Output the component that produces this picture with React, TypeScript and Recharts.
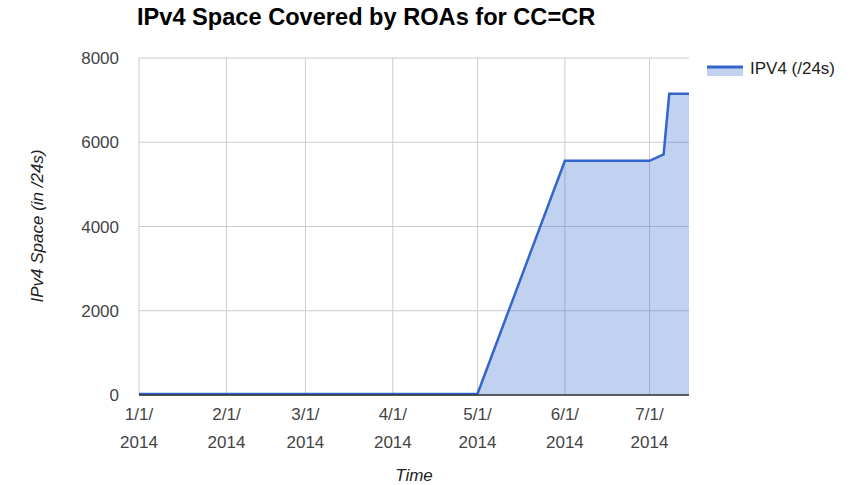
import { AreaChart, Area, XAxis, YAxis, CartesianGrid } from "recharts";

const FONT = "'Liberation Sans', Arial, sans-serif";

// dates (UTC, 2014) and IPv4 /24 counts
const dates = [
  Date.UTC(2014, 0, 1),
  Date.UTC(2014, 4, 1),
  Date.UTC(2014, 5, 1),
  Date.UTC(2014, 6, 1),
  Date.UTC(2014, 6, 6),
  Date.UTC(2014, 6, 8),
  Date.UTC(2014, 6, 15),
];
const ipv4Values = [25, 25, 5560, 5560, 5710, 7150, 7150];

const monthTicks = [0, 1, 2, 3, 4, 5, 6].map((m) => Date.UTC(2014, m, 1));
const yTicks = [0, 2000, 4000, 6000, 8000];

const data = dates.map((d, i) => ({ t: d, ipv4: ipv4Values[i] }));

function DateTick(props: any) {
  const { x, y, payload } = props;
  const d = new Date(payload.value);
  return (
    <text x={x} y={y} textAnchor="middle" fill="#444" fontSize={17} fontFamily={FONT}>
      <tspan x={x} dy={17}>{`${d.getUTCMonth() + 1}/${d.getUTCDate()}/`}</tspan>
      <tspan x={x} dy={28}>{d.getUTCFullYear()}</tspan>
    </text>
  );
}

export default function App() {
  return (
    <div style={{ position: "absolute", left: 0, top: 0, width: 851, height: 485, background: "#fff" }}>
      <div
        style={{
          position: "absolute",
          left: 137,
          top: 4,
          fontFamily: FONT,
          fontWeight: "bold",
          fontSize: 23.6,
          color: "#000",
          whiteSpace: "nowrap",
        }}
      >
        IPv4 Space Covered by ROAs for CC=CR
      </div>
      <div
        style={{
          position: "absolute",
          left: 38,
          top: 226,
          transform: "translate(-50%, -50%) rotate(-90deg)",
          fontFamily: FONT,
          fontStyle: "italic",
          fontSize: 17,
          color: "#222",
          whiteSpace: "nowrap",
        }}
      >
        IPv4 Space (in /24s)
      </div>
      <div
        style={{
          position: "absolute",
          left: 414,
          top: 476,
          transform: "translate(-50%, -50%)",
          fontFamily: FONT,
          fontStyle: "italic",
          fontSize: 17,
          color: "#222",
        }}
      >
        Time
      </div>
      <div style={{ position: "absolute", left: 707, top: 59, display: "flex", alignItems: "center", fontFamily: FONT }}>
        <svg width={37} height={14}>
          <rect x={0} y={5} width={36} height={9} fill="#3366cc" fillOpacity={0.3} />
          <line x1={0} y1={5} x2={36} y2={5} stroke="#3366cc" strokeWidth={3} />
        </svg>
        <span style={{ fontSize: 17, color: "#222", marginLeft: 6 }}>IPV4 (/24s)</span>
      </div>
      <AreaChart width={851} height={485} data={data} margin={{ top: 58, right: 162, bottom: 0, left: 0 }}>
        <CartesianGrid stroke="#ccc" strokeWidth={1} verticalValues={monthTicks} horizontalValues={yTicks} />
        <XAxis
          dataKey="t"
          type="number"
          scale="time"
          domain={[Date.UTC(2014, 0, 1), Date.UTC(2014, 6, 15)]}
          ticks={monthTicks}
          interval={0}
          tick={<DateTick />}
          tickLine={false}
          axisLine={{ stroke: "#333", strokeWidth: 1.5 }}
          height={90}
        />
        <YAxis
          domain={[0, 8000]}
          ticks={yTicks}
          width={139}
          axisLine={false}
          tickLine={false}
          tickMargin={14}
          tick={{ fill: "#444", fontSize: 17, fontFamily: FONT }}
        />
        <Area
          type="linear"
          dataKey="ipv4"
          name="IPV4 (/24s)"
          stroke="#3366cc"
          strokeWidth={2.5}
          fill="#3366cc"
          fillOpacity={0.3}
          isAnimationActive={false}
          dot={false}
          activeDot={false}
        />
      </AreaChart>
    </div>
  );
}
